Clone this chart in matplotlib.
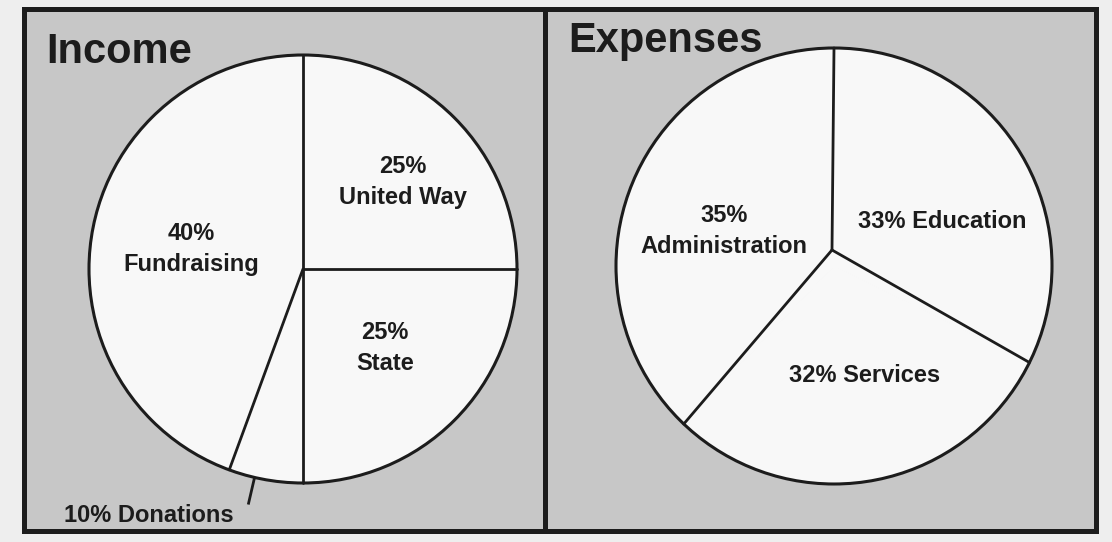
import matplotlib.pyplot as plt
import numpy as np
from matplotlib.patches import Circle, Rectangle

plt.rcParams["font.family"] = ["Liberation Sans", "DejaVu Sans"]

# wedge sizes as drawn in the scan (percent of the circle), clockwise from 12 o'clock
income_slices = ["United Way", "State", "Donations", "Fundraising"]
income_drawn = [25.0, 25.0, 5.6, 44.4]
expense_slices = ["Education", "Services", "Administration"]
expense_drawn = [32.3, 29.8, 37.9]

# printed labels
income_labels = {
    "United Way": "25%\nUnited Way",
    "State": "25%\nState",
    "Fundraising": "40%\nFundraising",
    "Donations": "10% Donations",
}
expense_labels = {
    "Administration": "35%\nAdministration",
    "Education": "33% Education",
    "Services": "32% Services",
}

W, H = 1112, 542
PAPER = "#eeeeee"
PANEL = "#c7c7c7"
FILL = "#f8f8f8"
INK = "#1c1c1c"


def py(y):
    # image rows run downward, the axes run upward
    return H - y


def draw_pie(ax, values, center, radius, hub):
    # fills from ax.pie; outline and spokes drawn on top (the spokes meet at
    # the hand-drawn hub, which is not quite the circle centre in the scan)
    wedges, _ = ax.pie(values, startangle=90, counterclock=False,
                       center=center, radius=radius,
                       wedgeprops=dict(facecolor=FILL, edgecolor=FILL,
                                       linewidth=1.2))
    for w in wedges:
        w.set_zorder(2)
    ax.add_patch(Circle(center, radius, facecolor="none", edgecolor=INK,
                        linewidth=2.2, zorder=3))
    for w in wedges:
        t = np.deg2rad(w.theta2)
        ax.plot([hub[0], center[0] + radius * np.cos(t)],
                [hub[1], center[1] + radius * np.sin(t)],
                color=INK, linewidth=2.0, solid_capstyle="round", zorder=3)
    return wedges


fig = plt.figure(figsize=(W / 100, H / 100), dpi=100, facecolor=PAPER)
ax = fig.add_axes([0, 0, 1, 1])

# panels
for x0, x1 in [(24, 545), (545, 1096)]:
    ax.add_patch(Rectangle((x0, py(531)), x1 - x0, 531 - 9, facecolor=PANEL,
                           edgecolor=INK, linewidth=3.6, zorder=1))

inc_center = (303, py(269))
inc_radius = 214
inc_wedges = draw_pie(ax, income_drawn, inc_center, inc_radius,
                      hub=inc_center)

exp_center = (834, py(266))
exp_radius = 218
exp_wedges = draw_pie(ax, expense_drawn, exp_center, exp_radius,
                      hub=(832, py(250)))

# leader for the thin donations wedge
don = inc_wedges[income_slices.index("Donations")]
ang = np.deg2rad((don.theta1 + don.theta2) / 2 - 3)
r0, r1 = inc_radius, inc_radius * 1.13
ax.plot([inc_center[0] + r0 * np.cos(ang), inc_center[0] + r1 * np.cos(ang)],
        [inc_center[1] + r0 * np.sin(ang), inc_center[1] + r1 * np.sin(ang)],
        color=INK, linewidth=2.0, solid_capstyle="butt", zorder=3)

# titles
ax.text(46, py(63), "Income", fontsize=30, fontweight="bold", color=INK,
        ha="left", va="baseline", zorder=4)
ax.text(568, py(52), "Expenses", fontsize=30, fontweight="bold", color=INK,
        ha="left", va="baseline", zorder=4)

label_pos = {
    "United Way": (403, 182, "center"),
    "State": (385, 348, "center"),
    "Fundraising": (191, 249, "center"),
    "Donations": (64, 516, "left"),
    "Administration": (724, 231, "center"),
    "Education": (942, 221, "center"),
    "Services": (865, 376, "center"),
}
all_labels = {**income_labels, **expense_labels}
for name, text in all_labels.items():
    x, y, ha = label_pos[name]
    ax.text(x, py(y), text, fontsize=17, fontweight="bold", color=INK,
            ha=ha, va="center", linespacing=1.42, zorder=4)

ax.set_xlim(0, W)
ax.set_ylim(0, H)
ax.set_aspect("equal", adjustable="box")
ax.axis("off")

fig.savefig("out.png", dpi=100, facecolor=PAPER)
plt.close(fig)
